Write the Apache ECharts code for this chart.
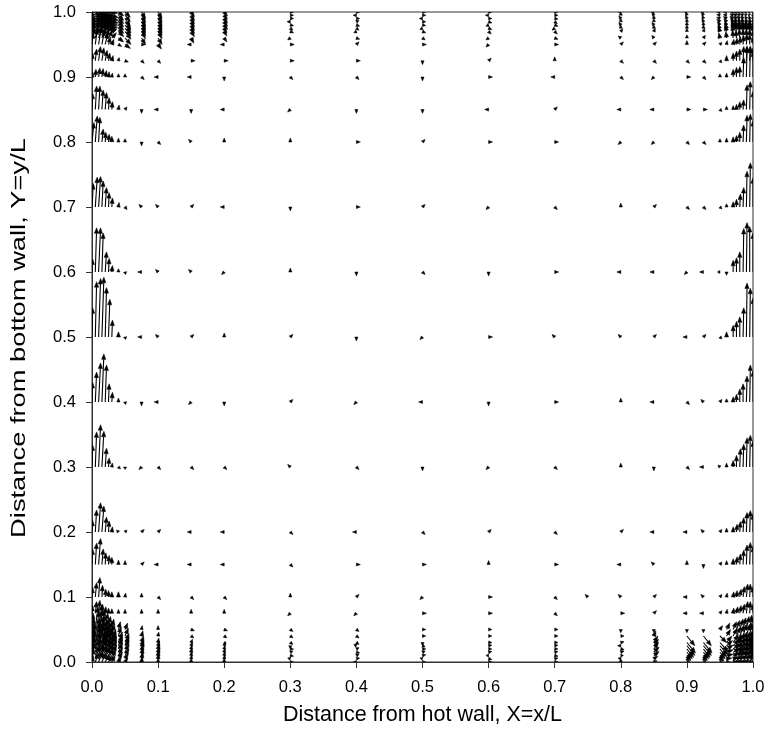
<!DOCTYPE html>
<html>
<head>
<meta charset="utf-8">
<script src="https://cdn.jsdelivr.net/npm/echarts@6/dist/echarts.min.js"></script>
<style>
html,body{margin:0;padding:0;background:#fff;}
#chart{width:768px;height:741px;}
</style>
</head>
<body>
<div id="chart"></div>
<script>
// ---------------- DATA ----------------
// Axis ticks
const tickValues = [0, 0.1, 0.2, 0.3, 0.4, 0.5, 0.6, 0.7, 0.8, 0.9, 1.0];
const xTitle = 'Distance from hot wall, X=x/L';
const yTitle = 'Distance from bottom wall, Y=y/L';

// Sample grid (X = x/L columns, Y = y/L rows)
const colsHot  = [0, 0.005, 0.01, 0.015, 0.02, 0.025, 0.03, 0.04, 0.05];
const colsCold = [0.95, 0.96, 0.97, 0.975, 0.98, 0.985, 0.99, 0.995, 1.0];
const colsMid  = [0.075, 0.1, 0.15, 0.2, 0.3, 0.4, 0.5, 0.6, 0.7, 0.8, 0.85, 0.9, 0.925];
const rowsBottom = [0, 0.005, 0.01, 0.015, 0.02, 0.025, 0.03, 0.04, 0.05];
const rowsMid    = [0.075, 0.1, 0.15, 0.2, 0.3, 0.4, 0.5, 0.6, 0.7, 0.8, 0.85, 0.9, 0.925, 0.95];
const rowsTop    = [0.96, 0.97, 0.975, 0.98, 0.985, 0.99, 0.995, 1.0];
const rowsAll    = rowsBottom.concat(rowsMid, rowsTop);

// Velocity vectors [U, V] in units of 0.001 L (arrow length on the X/Y scale)
// Hot-wall layer: rowsAll x colsHot
const hotWall = [
  [[2,10],[5,14],[6,16],[6,14],[6,12],[5,10],[5,10],[4,8],[4,6]],
  [[3,16],[7,20],[8,22],[8,20],[7,18],[7,16],[6,14],[6,10],[5,8]],
  [[4,20],[8,26],[9,28],[8,24],[8,22],[7,18],[7,16],[6,12],[6,10]],
  [[4,24],[8,30],[9,32],[8,28],[8,24],[7,20],[7,18],[6,14],[6,12]],
  [[4,26],[8,34],[8,36],[8,30],[7,26],[7,22],[7,20],[6,16],[6,14]],
  [[4,28],[7,36],[8,38],[7,32],[7,28],[6,24],[6,20],[6,16],[6,14]],
  [[4,30],[7,38],[7,40],[7,34],[6,28],[6,24],[6,20],[6,16],[6,14]],
  [[3,28],[6,38],[6,40],[5,32],[5,26],[5,22],[4,18],[4,14],[5,12]],
  [[2,25],[4,35],[5,38],[4,30],[4,25],[3,20],[3,16],[3,12],[4,10]],
  [[1,12],[2,18],[2,20],[1,14],[1,10],[0,8],[0,7],[0,6],[0,6]],
  [[1,15],[2,22],[2,30],[1,18],[1,12],[0,10],[0,8],[0,8],[1,6]],
  [[1,24],[2,33],[3,40],[2,24],[1,18],[1,14],[0,11],[0,7],[0,6]],
  [[1,18],[2,34],[3,45],[3,40],[2,23],[1,17],[1,8],[-3,3],[3,3]],
  [[1,34],[2,54],[3,65],[3,55],[2,29],[1,14],[1,6],[3,-3],[0,-4]],
  [[1,30],[2,46],[3,60],[3,74],[2,57],[1,28],[1,15],[0,6],[1,-4]],
  [[1,45],[2,85],[3,90],[3,92],[2,76],[2,58],[1,26],[0,8],[1,-4]],
  [[1,20],[2,68],[3,68],[2,60],[2,31],[1,21],[1,10],[0,5],[1,-4]],
  [[2,36],[3,46],[3,47],[2,40],[2,30],[1,22],[1,14],[1,7],[3,-4]],
  [[3,30],[3,40],[2,38],[2,20],[1,15],[1,12],[0,9],[0,6],[0,5]],
  [[1,25],[2,36],[2,36],[2,30],[2,26],[1,18],[1,12],[1,7],[3,4]],
  [[1,8],[1,12],[2,14],[2,13],[2,10],[1,8],[1,6],[0,5],[0,5]],
  [[1,12],[2,18],[3,22],[3,20],[3,16],[2,12],[2,8],[1,5],[5,-2]],
  [[2,18],[3,24],[4,26],[4,22],[4,18],[3,12],[3,8],[5,-3],[8,-6]],
  [[4,16],[5,18],[6,18],[6,16],[6,14],[6,12],[7,8],[8,-6],[9,-10]],
  [[5,12],[6,14],[7,14],[7,12],[7,10],[8,8],[8,4],[8,-8],[9,-12]],
  [[5,10],[7,12],[8,12],[8,10],[8,8],[9,6],[9,2],[8,-8],[9,-12]],
  [[6,8],[8,10],[9,9],[9,7],[9,6],[9,4],[9,0],[8,-8],[9,-12]],
  [[6,6],[9,7],[10,6],[10,5],[10,4],[10,2],[10,-2],[8,-8],[9,-12]],
  [[6,4],[10,4],[11,4],[11,3],[11,2],[10,0],[10,-3],[8,-8],[8,-12]],
  [[6,2],[10,2],[11,2],[11,1],[11,0],[10,-1],[10,-4],[8,-8],[8,-10]],
  [[5,0],[9,0],[10,0],[10,0],[10,0],[10,0],[9,-2],[8,-6],[8,-8]]
];

// Cold-wall layer: rowsAll x colsCold
const coldWall = [
  [[4,0],[6,0],[6,1],[6,2],[6,2],[5,3],[4,4],[3,5],[0,4]],
  [[5,-4],[8,1],[8,2],[8,4],[7,4],[6,6],[5,6],[4,8],[0,6]],
  [[6,-8],[10,2],[9,4],[9,6],[8,6],[7,8],[6,8],[4,10],[0,8]],
  [[8,-10],[10,4],[10,6],[9,8],[8,8],[7,10],[6,10],[4,12],[0,10]],
  [[10,-12],[10,6],[10,8],[9,10],[8,10],[7,12],[6,12],[4,14],[0,12]],
  [[12,-14],[9,8],[9,10],[8,12],[8,12],[7,14],[6,14],[4,16],[0,14]],
  [[12,-14],[8,10],[8,12],[8,12],[7,14],[6,16],[5,16],[4,18],[0,16]],
  [[10,-10],[6,10],[6,12],[6,14],[6,16],[5,18],[5,18],[3,20],[0,18]],
  [[4,6],[5,10],[5,12],[5,14],[5,16],[4,18],[4,20],[3,22],[0,20]],
  [[3,4],[1,6],[1,8],[2,10],[2,12],[2,14],[2,18],[1,18],[0,14]],
  [[3,4],[1,6],[1,8],[1,10],[2,12],[2,16],[2,20],[1,20],[0,16]],
  [[3,4],[0,6],[0,9],[1,12],[1,16],[1,22],[1,30],[1,34],[0,28]],
  [[3,4],[0,6],[0,8],[1,12],[1,16],[1,22],[1,30],[1,33],[0,28]],
  [[-3,3],[0,6],[0,10],[0,18],[1,28],[1,35],[1,45],[1,49],[0,40]],
  [[3,4],[0,5],[0,8],[0,12],[0,20],[0,28],[1,40],[1,57],[0,48]],
  [[3,-3],[0,8],[0,18],[0,24],[0,31],[1,45],[1,83],[1,75],[0,60]],
  [[-4,0],[0,-5],[0,18],[0,22],[0,31],[1,67],[1,76],[0,70],[0,60]],
  [[3,-3],[0,5],[0,8],[0,12],[1,20],[1,30],[1,55],[1,68],[0,45]],
  [[0,5],[0,6],[0,8],[0,10],[0,15],[1,26],[1,41],[1,43],[0,33]],
  [[3,-3],[0,5],[0,6],[0,8],[0,12],[1,15],[1,38],[1,43],[0,28]],
  [[0,5],[0,6],[0,12],[0,15],[0,16],[1,30],[1,46],[1,46],[0,40]],
  [[3,-3],[0,8],[0,12],[0,15],[0,18],[1,22],[1,23],[1,23],[0,20]],
  [[3,3],[1,6],[1,8],[1,10],[1,12],[1,14],[1,16],[0,16],[0,12]],
  [[-2,8],[-1,10],[-1,12],[-1,12],[-1,14],[0,14],[0,14],[0,14],[0,12]],
  [[-3,8],[-2,10],[-2,10],[-2,12],[-1,12],[-1,12],[0,12],[0,12],[0,10]],
  [[-3,6],[-3,8],[-2,10],[-2,10],[-2,10],[-1,10],[-1,10],[0,10],[0,8]],
  [[-4,5],[-3,6],[-3,8],[-3,8],[-2,8],[-2,8],[-1,8],[0,8],[0,6]],
  [[-5,4],[-4,5],[-4,6],[-3,6],[-3,6],[-2,6],[-1,6],[0,6],[0,5]],
  [[-5,2],[-5,3],[-5,4],[-4,4],[-4,4],[-3,4],[-2,4],[-1,4],[0,4]],
  [[-5,1],[-5,1],[-5,2],[-5,2],[-4,2],[-4,2],[-3,2],[-2,2],[-1,2]],
  [[-5,0],[-5,0],[-5,0],[-5,0],[-5,0],[-4,0],[-4,0],[-3,0],[-2,0]]
];

// Bottom-wall layer: rowsBottom x colsMid
const bottomLayer = [
  [[1,8],[0,6],[0,6],[0,6],[5,0],[-5,0],[5,0],[5,0],[5,0],[0,5],[5,2],[4,0],[4,0]],
  [[2,10],[1,8],[1,6],[1,6],[-4,1],[5,1],[-4,1],[5,-1],[5,1],[-4,1],[6,4],[4,-4],[4,-4]],
  [[2,12],[1,8],[1,6],[1,6],[5,-1],[4,2],[5,1],[-4,0],[5,-1],[4,0],[8,6],[6,-8],[6,-8]],
  [[2,12],[2,8],[1,7],[1,6],[4,2],[5,-1],[4,2],[5,1],[5,1],[5,2],[8,8],[8,-10],[8,-10]],
  [[3,12],[2,8],[1,6],[1,5],[5,0],[4,2],[5,0],[5,0],[5,0],[5,-1],[7,10],[10,-13],[10,-13]],
  [[3,10],[2,7],[2,6],[2,5],[0,-5],[-4,2],[4,-2],[5,1],[5,1],[-5,0],[7,10],[12,-15],[12,-15]],
  [[3,10],[1,7],[2,5],[3,-2],[4,-3],[4,-3],[0,-5],[5,0],[5,0],[5,1],[6,10],[13,-16],[13,-16]],
  [[2,8],[1,6],[4,-3],[4,-3],[4,-3],[4,-3],[5,0],[5,0],[5,0],[5,0],[3,8],[12,-15],[12,-15]],
  [[1,6],[0,6],[5,-2],[5,-2],[4,-3],[4,-3],[5,0],[5,0],[5,0],[0,-5],[0,-5],[0,-5],[0,-5]]
];

// Top-wall layer: rowsTop x colsMid
const topLayer = [
  [[6,-10],[6,-10],[4,-8],[4,-6],[-4,-3],[5,-2],[4,-3],[-4,-3],[5,-2],[-4,3],[-3,4],[0,5],[3,4]],
  [[6,-11],[6,-11],[5,-8],[4,-7],[5,-2],[-4,-2],[5,-2],[4,-4],[4,-4],[3,4],[2,5],[0,5],[2,5]],
  [[6,-11],[6,-11],[5,-8],[4,-7],[4,-3],[4,-3],[-4,-2],[5,-2],[-4,-3],[0,5],[0,5],[0,5],[0,5]],
  [[6,-12],[6,-12],[5,-8],[5,-7],[5,-1],[5,-2],[5,-1],[-4,-2],[5,-2],[-3,4],[-3,4],[0,5],[0,5]],
  [[6,-12],[6,-12],[5,-8],[5,-7],[-5,0],[4,2],[5,0],[5,-2],[4,-3],[0,5],[0,5],[0,5],[-2,5]],
  [[6,-12],[6,-12],[5,-8],[5,-7],[5,0],[5,0],[-5,0],[5,0],[5,-1],[-3,4],[0,5],[-2,5],[-2,5]],
  [[6,-11],[6,-11],[5,-8],[5,-6],[5,0],[-5,0],[5,0],[-5,0],[5,0],[0,5],[-3,4],[-2,5],[-3,4]],
  [[6,-10],[6,-10],[5,-7],[5,-6],[5,0],[5,0],[5,0],[5,0],[5,0],[-4,0],[-4,0],[-4,0],[-4,0]]
];

// Core region: rowsMid x colsMid
const coreRegion = [
  [[0,6],[0,6],[0,6],[0,6],[-4,-4],[-4,-4],[6,0],[6,0],[4,-4],[6,0],[4,4],[-6,0],[-6,0]],
  [[0,6],[4,-4],[4,-4],[4,-4],[0,6],[4,4],[-4,-4],[6,0],[4,-4],[-4,4],[4,4],[-6,0],[-4,4]],
  [[4,4],[-6,0],[-6,0],[-6,0],[4,-4],[6,0],[6,0],[0,6],[6,0],[-6,0],[-4,4],[0,6],[0,-6]],
  [[4,4],[4,4],[-6,0],[-6,0],[4,-4],[-6,0],[4,-4],[4,4],[4,-4],[4,4],[-6,0],[-6,0],[-4,4]],
  [[-4,-4],[4,-4],[4,-4],[4,-4],[-4,4],[4,-4],[0,-6],[-4,-4],[4,-4],[0,6],[0,-6],[4,-4],[-6,0]],
  [[0,-6],[-6,0],[-4,-4],[0,-6],[4,4],[-4,-4],[-6,0],[0,-6],[6,0],[0,6],[-6,0],[4,-4],[-4,4]],
  [[-6,0],[-4,4],[4,4],[0,6],[4,4],[0,-6],[-4,-4],[6,0],[-4,4],[-4,4],[4,4],[-6,0],[4,4]],
  [[-6,0],[-4,4],[-4,4],[-4,-4],[0,6],[0,-6],[4,-4],[0,-6],[6,0],[-6,0],[-6,0],[-4,-4],[-6,0]],
  [[-4,4],[-4,4],[4,4],[-6,0],[0,-6],[6,0],[4,4],[-4,-4],[4,-4],[0,6],[4,4],[4,-4],[4,-4]],
  [[0,-6],[4,-4],[-4,4],[0,6],[0,6],[6,0],[4,4],[6,0],[6,0],[-4,-4],[-4,-4],[4,-4],[4,-4]],
  [[0,-6],[-6,0],[0,-6],[-6,0],[-4,-4],[0,-6],[0,-6],[-6,0],[4,4],[-6,0],[-6,0],[6,0],[6,0]],
  [[4,-4],[-6,0],[-6,0],[0,-6],[4,-4],[4,-4],[0,-6],[6,0],[-6,0],[4,-4],[-4,-4],[6,0],[4,-4]],
  [[4,-4],[4,-4],[6,0],[6,0],[6,0],[6,0],[0,-6],[4,4],[0,6],[4,-4],[4,-4],[4,-4],[4,-4]],
  [[6,0],[5,-7],[-6,0],[-6,0],[6,0],[4,4],[6,0],[-4,-4],[6,0],[4,4],[4,4],[0,6],[4,4]]
];

// Isolated extra sample point [X, Y, U, V]
const extraPoints = [[0.75, 0.1, -4, 4]];

// ---------------- BUILD ----------------
const UNIT = 0.001;
function expand(rows, cols, mat, out) {
  rows.forEach(function (y, i) {
    cols.forEach(function (x, j) {
      const p = mat[i][j];
      out.push([x, y, p[0], p[1]]);
    });
  });
}
const vectors = [];
expand(rowsAll, colsHot, hotWall, vectors);
expand(rowsAll, colsCold, coldWall, vectors);
expand(rowsBottom, colsMid, bottomLayer, vectors);
expand(rowsTop, colsMid, topLayer, vectors);
expand(rowsMid, colsMid, coreRegion, vectors);
extraPoints.forEach(function (p) { vectors.push(p); });

const HEAD_LEN = 5.5, HEAD_HALF = 2.1;
function renderArrow(params, api) {
  const x = api.value(0), y = api.value(1);
  const u = api.value(2) * UNIT, v = api.value(3) * UNIT;
  const p0 = api.coord([x, y]);
  const p1 = api.coord([x + u, y + v]);
  const dx = p1[0] - p0[0], dy = p1[1] - p0[1];
  const L = Math.sqrt(dx * dx + dy * dy);
  if (L < 0.3) return null;
  const ux = dx / L, uy = dy / L;
  const hl = Math.min(HEAD_LEN, L);
  const hw = HEAD_HALF * Math.max(0.75, hl / HEAD_LEN);
  const bx = p1[0] - ux * hl, by = p1[1] - uy * hl;
  const children = [];
  if (L > hl) {
    children.push({
      type: 'line',
      shape: { x1: p0[0], y1: p0[1], x2: bx, y2: by },
      style: { stroke: '#000', lineWidth: 1.1 }
    });
  }
  children.push({
    type: 'polygon',
    shape: { points: [[p1[0], p1[1]], [bx - uy * hw, by + ux * hw], [bx + uy * hw, by - ux * hw]] },
    style: { fill: '#000', stroke: '#000', lineWidth: 0.5 }
  });
  return { type: 'group', children: children };
}

const FONT = '"Liberation Sans", Arial, Helvetica, sans-serif';
const chart = echarts.init(document.getElementById('chart'), null, { renderer: 'canvas' });
chart.setOption({
  animation: false,
  backgroundColor: '#fff',
  grid: { left: 92, right: 15, top: 12, bottom: 79, show: true, borderColor: '#333', borderWidth: 1, backgroundColor: 'transparent' },
  graphic: [{
    type: 'text',
    x: 19, y: 338,
    rotation: Math.PI / 2,
    scaleX: 1.3,
    style: {
      text: yTitle,
      fontFamily: '"Liberation Sans", Arial, Helvetica, sans-serif',
      fontSize: 21,
      fill: '#000',
      align: 'center',
      verticalAlign: 'middle'
    }
  }],
  xAxis: {
    type: 'value', min: 0, max: 1, interval: 0.1,
    name: xTitle, nameLocation: 'middle', nameGap: 42,
    nameTextStyle: { fontFamily: FONT, fontSize: 21.5, color: '#000' },
    axisLine: { show: true, onZero: false, lineStyle: { color: '#333', width: 1 } },
    axisTick: { show: true, inside: false, length: 6, lineStyle: { color: '#333' } },
    axisLabel: { fontFamily: FONT, fontSize: 16.5, color: '#000', margin: 17,
      formatter: function (v) { return v.toFixed(1); } },
    splitLine: { show: false }
  },
  yAxis: {
    type: 'value', min: 0, max: 1, interval: 0.1,
    axisLine: { show: true, onZero: false, lineStyle: { color: '#333', width: 1 } },
    axisTick: { show: true, inside: false, length: 6, lineStyle: { color: '#333' } },
    axisLabel: { fontFamily: FONT, fontSize: 16.5, color: '#000', margin: 16,
      formatter: function (v) { return v.toFixed(1); } },
    splitLine: { show: false }
  },
  series: [{
    type: 'custom',
    clip: true,
    renderItem: renderArrow,
    data: vectors,
    encode: { x: 0, y: 1 },
    silent: true
  }]
});
</script>
</body>
</html>
